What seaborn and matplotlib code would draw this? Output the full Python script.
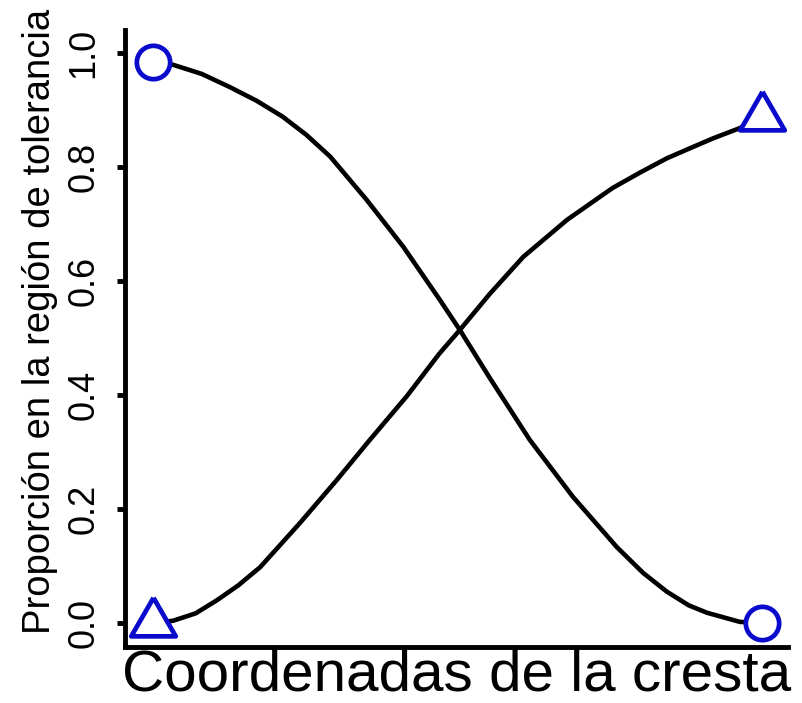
import matplotlib
matplotlib.use("Agg")
import matplotlib.pyplot as plt
import seaborn as sns
import pandas as pd

# Proportion inside the tolerance region along the crest coordinate
pos_dec = [0.0, 0.033, 0.080, 0.126, 0.170, 0.213, 0.252, 0.291, 0.351,
           0.411, 0.471, 0.504, 0.553, 0.619, 0.690, 0.762, 0.805, 0.844,
           0.880, 0.910, 0.964, 1.0]
prop_dec = [0.984, 0.979, 0.963, 0.940, 0.916, 0.888, 0.856, 0.818, 0.742,
            0.660, 0.567, 0.514, 0.430, 0.321, 0.221, 0.133, 0.088, 0.055,
            0.031, 0.018, 0.002, 0.0]

pos_inc = [0.0, 0.033, 0.070, 0.105, 0.140, 0.176, 0.241, 0.302, 0.356,
           0.417, 0.470, 0.504, 0.553, 0.608, 0.680, 0.755, 0.800, 0.844,
           0.885, 0.920, 0.964, 1.0]
prop_inc = [0.0, 0.004, 0.017, 0.040, 0.066, 0.098, 0.175, 0.251, 0.321,
            0.398, 0.472, 0.514, 0.577, 0.642, 0.707, 0.763, 0.790, 0.815,
            0.834, 0.850, 0.868, 0.888]

yticks = [0.0, 0.2, 0.4, 0.6, 0.8, 1.0]
ytick_labels = ["0.0", "0.2", "0.4", "0.6", "0.8", "1.0"]

dec = pd.DataFrame({"pos": pos_dec, "prop": prop_dec})
inc = pd.DataFrame({"pos": pos_inc, "prop": prop_inc})
dec_ends = dec.iloc[[0, -1]]
inc_ends = inc.iloc[[0, -1]]

sns.set_theme(style="ticks")
plt.rcParams["font.family"] = ["Liberation Sans", "DejaVu Sans"]

fig = plt.figure(figsize=(8.02, 7.03), dpi=100)
ax = fig.add_axes([0.1559, 0.0797, 0.8266, 0.8776])

blue = "#0a0acc"
for df in (dec, inc):
    sns.lineplot(data=df, x="pos", y="prop", sort=False, color="black",
                 linewidth=3.3, ax=ax, zorder=2)
for ln in ax.lines:
    ln.set_solid_joinstyle("round")
    ln.set_solid_capstyle("round")

sns.scatterplot(data=dec_ends, x="pos", y="prop", marker="o", s=24 ** 2,
                color="white", edgecolor=blue, linewidth=3.4, ax=ax, zorder=3)
tri = [(0.0, 1.0), (-0.866, -0.5), (0.866, -0.5), (0.0, 1.0)]
sns.scatterplot(data=inc_ends, x="pos", y="prop", marker=tri, s=37 ** 2,
                color="white", edgecolor=blue, linewidth=3.4, ax=ax, zorder=3)

ax.set_xlim(-0.046, 1.043)
ax.set_ylim(-0.042, 1.040)
ax.set_xticks([])
ax.set_yticks(yticks)
ax.set_yticklabels(ytick_labels)
ax.tick_params(axis="y", length=6, width=3.5, pad=11, color="black",
               labelcolor="black", labelsize=26)
for lab in ax.get_yticklabels():
    lab.set_rotation(90)
    lab.set_va("center")
    lab.set_fontsize(26)

ax.set_xlabel("Coordenadas de la cresta", fontsize=42, color="black",
              labelpad=1)
ax.set_ylabel("Proporción en la región de tolerancia", fontsize=27.5,
              color="black")
ax.yaxis.set_label_coords(-0.101, 0.527)

sns.despine(ax=ax)
for side in ("left", "bottom"):
    ax.spines[side].set_linewidth(3.5)
    ax.spines[side].set_color("black")

fig.savefig("out.png", dpi=100, facecolor="white")
